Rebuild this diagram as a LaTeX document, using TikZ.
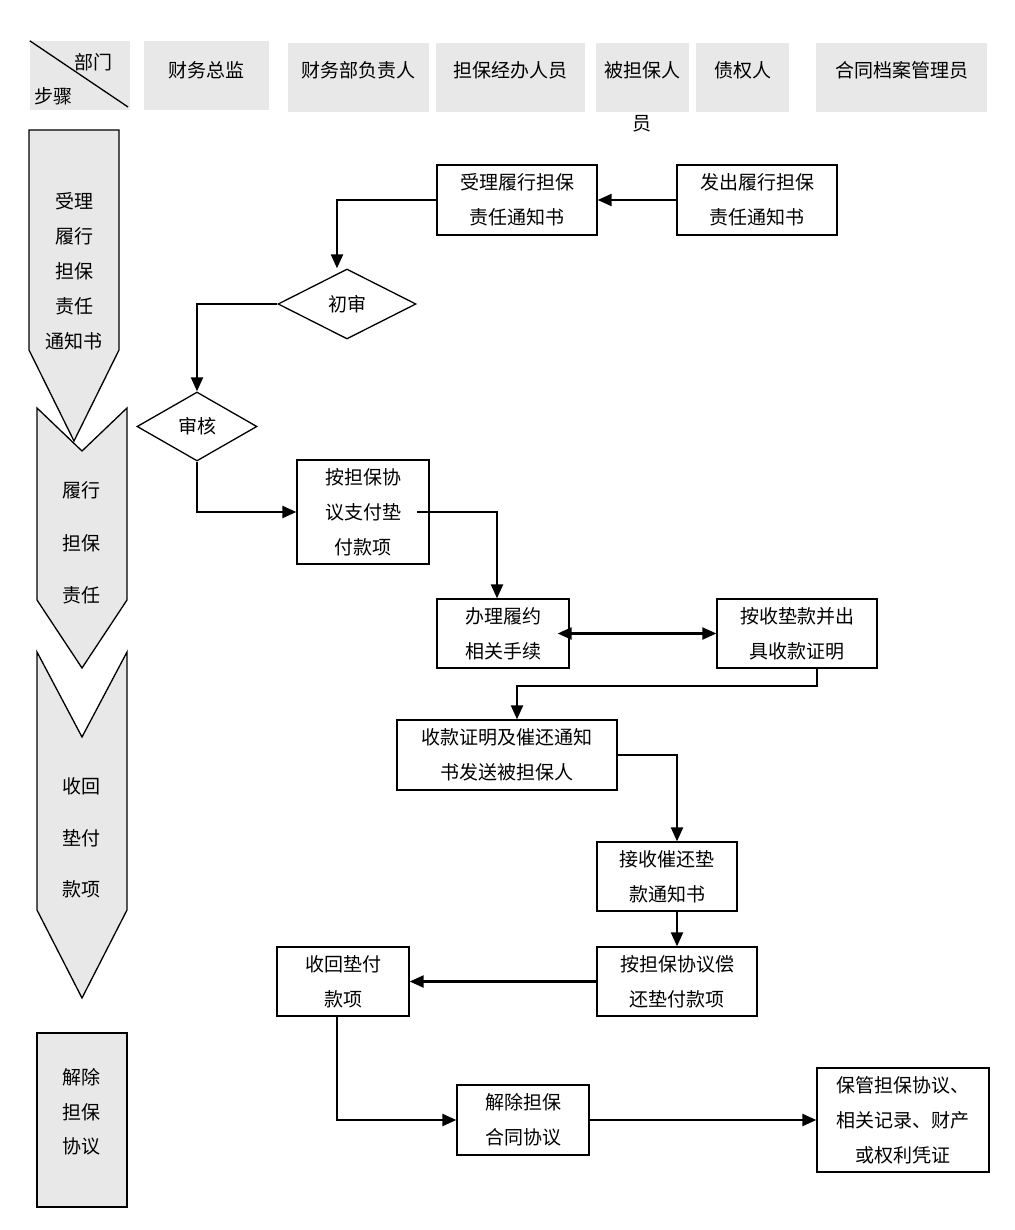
\documentclass[tikz,border=0pt]{standalone}
\usepackage{fontspec}
\setmainfont{Noto Sans CJK SC}
\usetikzlibrary{shapes.geometric,arrows.meta}
\definecolor{hgray}{HTML}{E8E8E8}
\begin{document}
\begin{tikzpicture}[x=1pt,y=-1pt,
  hbox/.style={fill=hgray, inner sep=0, minimum height=69pt},
  htext/.style={inner sep=0, font=\fontsize{19}{23}\selectfont},
  stage/.style={fill=hgray, draw=black, line width=1.3pt, line join=miter},
  stext/.style={inner sep=0, align=center},
  box/.style={draw=black, fill=white, line width=1.3pt, align=center, inner sep=0,
    font=\fontsize{19}{35}\selectfont},
  dia/.style={draw=black, fill=white, line width=1.3pt, diamond, inner sep=0,
    font=\fontsize{19}{23}\selectfont},
  arr/.style={line width=2.2pt, -{Triangle[length=14pt,width=12pt]}},
  dbl/.style={line width=2.2pt, {Triangle[length=14pt,width=12pt]}-{Triangle[length=14pt,width=12pt]}}
]
\useasboundingbox (0,0) rectangle (1014,1230);

% header
\node[hbox, minimum width=100pt] (h0) at (80,75.5) {};
\draw[line width=1.3pt] (h0.north west) -- (128,107);
\node[htext] (h0a) at (93,62) {部门};
\node[htext] (h0b) at (53,96) {步骤};
\node[hbox, minimum width=125pt] (h1) at (206.5,75.5) {};
\node[htext] (h1t) at (206.5,70) {财务总监};
\node[hbox, minimum width=141pt] (h2) at (358.5,77.5) {};
\node[htext] (h2t) at (358.5,70) {财务部负责人};
\node[hbox, minimum width=149pt] (h3) at (510.5,77.5) {};
\node[htext] (h3t) at (510.5,70) {担保经办人员};
\node[hbox, minimum width=93pt] (h4) at (642.5,77.5) {};
\node[htext] (h4t) at (642.5,70) {被担保人};
\node[htext] (h4u) at (642,124) {员};
\node[hbox, minimum width=93pt] (h5) at (742.5,77.5) {};
\node[htext] (h5t) at (742.5,70) {债权人};
\node[hbox, minimum width=171pt] (h6) at (901.5,77.5) {};
\node[htext] (h6t) at (901.5,70) {合同档案管理员};

% stage arrows
\draw[stage] (29,130) -- (119,130) -- (119,350) -- (74,441) -- (29,350) -- cycle;
\node[stext, font=\fontsize{19}{35}\selectfont] (s1) at (74,271.5) {受理\\履行\\担保\\责任\\通知书};
\draw[stage] (37,408) -- (82,451) -- (127,408) -- (127,600) -- (82,668) -- (37,600) -- cycle;
\node[stext, font=\fontsize{19}{52.5}\selectfont] (s2) at (81,543) {履行\\担保\\责任};
\draw[stage] (37,652) -- (82,737) -- (127,652) -- (127,910) -- (82,998) -- (37,910) -- cycle;
\node[stext, font=\fontsize{19}{51.5}\selectfont] (s3) at (81,838) {收回\\垫付\\款项};
\draw[stage] (37,1033) rectangle (127,1207);
\node[stext, font=\fontsize{19}{34.5}\selectfont] (s4) at (81,1112) {解除\\担保\\协议};

% flow nodes
\node[box, minimum width=160pt, minimum height=70pt] (A) at (517,200) {受理履行担保\\责任通知书};
\node[box, minimum width=160pt, minimum height=70pt] (B) at (757,200) {发出履行担保\\责任通知书};
\node[dia, minimum width=138pt, minimum height=70pt] (D1) at (347,304) {初审};
\node[dia, minimum width=120pt, minimum height=69pt] (D2) at (197,426.5) {审核};
\node[box, minimum width=132pt, minimum height=104pt] (C) at (363,512) {按担保协\\议支付垫\\付款项};
\node[box, minimum width=132pt, minimum height=69pt] (E) at (503,633.5) {办理履约\\相关手续};
\node[box, minimum width=160pt, minimum height=69pt] (F) at (797,633.5) {按收垫款并出\\具收款证明};
\node[box, minimum width=220pt, minimum height=70pt] (G) at (507,755) {收款证明及催还通知\\书发送被担保人};
\node[box, minimum width=140pt, minimum height=69pt] (H) at (667,876.5) {接收催还垫\\款通知书};
\node[box, minimum width=160pt, minimum height=69pt] (I) at (677,981.5) {按担保协议偿\\还垫付款项};
\node[box, minimum width=132pt, minimum height=69pt] (J) at (343,981.5) {收回垫付\\款项};
\node[box, minimum width=132pt, minimum height=70pt] (K) at (523,1120) {解除担保\\合同协议};
\node[box, minimum width=172pt, minimum height=104pt] (L) at (903,1120) {保管担保协议、\\相关记录、财产\\或权利凭证};

% connectors
\draw[arr] (B.west) -- (A.east);
\draw[arr] (A.west) -| ([xshift=-10pt]D1.north);
\draw[arr] (D1.west) -| (D2.north);
\draw[arr] (D2.south) |- (C.west);
\coordinate (c1) at (417,512);
\draw[arr] (c1) -| ([xshift=-6pt]E.north);
\draw[dbl] ([xshift=-12pt]E.east) -- (F.west);
\draw[arr] ([xshift=20pt]F.south) -- ++(0,17) -| ([xshift=10pt]G.north);
\draw[arr] (G.east) -| ([xshift=10pt]H.north);
\draw[arr] (H.south -| I.north) -- (I.north);
\draw[arr] (I.west) -- (J.east);
\draw[arr] ([xshift=-6pt]J.south) |- (K.west);
\draw[arr] (K.east) -- (L.west);
\end{tikzpicture}
\end{document}
